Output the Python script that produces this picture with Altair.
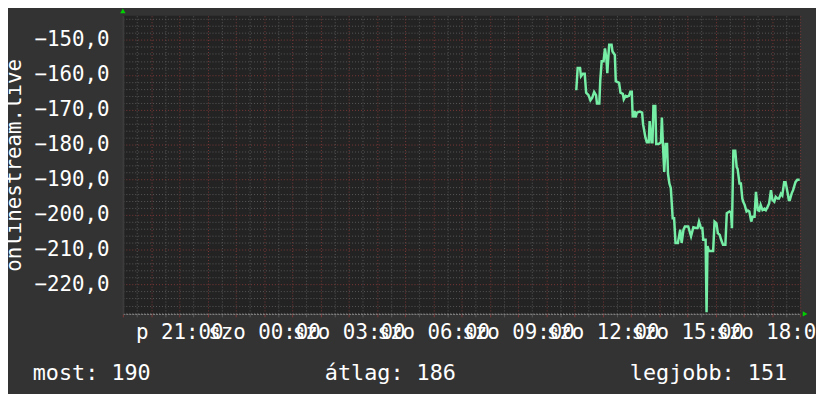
import altair as alt
import pandas as pd

# minutes relative to Saturday 00:00 (Friday 19:00 = -300)
minutes = [664, 667, 672, 674, 678, 682, 685, 690, 694, 698, 702, 706, 708, 713, 715,
           718, 722, 725, 728, 730, 732, 734, 739, 741, 746, 748, 755, 758, 763, 765,
           769, 772, 776, 779, 782, 784, 788, 790, 793, 799, 804, 806, 811, 814, 818,
           820, 824, 826, 828, 832, 834, 839, 844, 846, 848, 851, 854, 857, 859, 862,
           865, 869, 872, 875, 880, 885, 888, 892, 895, 902, 908, 913, 918, 922, 925,
           929, 932, 934, 939, 941, 943, 946, 951, 955, 958, 962, 965, 969, 972, 976,
           981, 984, 990, 993, 995, 998, 1002, 1005, 1007, 1011, 1014, 1017, 1019, 1022,
           1026, 1029, 1032, 1036, 1039, 1043, 1046, 1050, 1053, 1056, 1060, 1064, 1067,
           1071, 1074, 1078, 1081, 1085, 1088, 1092, 1095, 1099, 1102, 1106, 1109, 1113,
           1116, 1118, 1122, 1125, 1130, 1134, 1139]
values = [-164.4, -158.0, -158.0, -160.4, -159.7, -159.7, -165.1, -165.8, -167.3, -166.5,
          -164.9, -165.8, -168.2, -168.2, -161.6, -156.1, -156.1, -152.4, -155.2, -159.5,
          -155.2, -151.4, -151.4, -153.3, -154.3, -161.8, -162.3, -165.1, -165.4, -167.0,
          -166.0, -166.2, -166.0, -164.8, -164.8, -172.2, -170.3, -172.2, -170.8, -170.5,
          -170.8, -174.1, -177.9, -179.3, -179.3, -173.2, -179.3, -179.3, -168.9, -168.9,
          -179.8, -179.8, -179.3, -172.2, -179.3, -187.8, -179.8, -179.8, -188.3, -191.1,
          -192.4, -201.0, -201.0, -208.1, -208.1, -204.3, -208.1, -204.3, -203.4, -203.4,
          -206.2, -203.6, -203.8, -203.8, -202.0, -203.8, -203.8, -207.2, -207.2, -227.9,
          -209.0, -210.4, -210.4, -210.4, -202.0, -202.5, -205.3, -205.8, -207.2, -208.6,
          -208.6, -199.6, -199.1, -199.4, -203.9, -181.7, -181.7, -186.4, -186.9, -191.1,
          -191.1, -195.4, -196.3, -197.2, -199.1, -198.8, -199.1, -202.0, -200.6, -200.6,
          -193.5, -198.7, -198.9, -197.2, -198.7, -198.3, -198.7, -197.7, -196.8, -193.0,
          -195.8, -196.3, -194.9, -195.4, -195.4, -194.0, -194.5, -190.7, -190.7, -193.5,
          -195.8, -195.8, -193.9, -193.0, -190.7, -190.0, -190.0]

x_label_values = [-180, 0, 180, 360, 540, 720, 900, 1080]
x_label_texts = ["p 21:00", "szo 00:00", "szo 03:00", "szo 06:00", "szo 09:00",
                 "szo 12:00", "szo 15:00", "szo 18:00"]
legend_names = ["most", "átlag", "legjobb"]
legend_values = [190, 186, 151]
y_title = "onlinestream.live"

X_DOMAIN = [-300, 1140]
Y_DOMAIN = [-228.4, -143.1]

FONT = "DejaVu Sans Mono"
MINOR = "#585858"
MAJOR = "#7e3838"

df = pd.DataFrame({"t": minutes, "v": values})

x_expr = "".join(f"datum.value === {v} ? '{t}' : " for v, t in zip(x_label_values, x_label_texts)) + "''"
y_expr = "datum.value % 10 === 0 ? replace(format(datum.value, '.1f'), '.', ',') : ''"

x_axis = alt.Axis(
    values=list(range(X_DOMAIN[0], X_DOMAIN[1] + 1, 30)),
    labelExpr=x_expr, labelOverlap=False, labelFlush=False, labelBound=False,
    labelFont=FONT, labelFontSize=21, labelColor="#ffffff", labelPadding=5,
    tickSize=3,
    tickColor={"condition": {"test": "datum.value % 60 === 0", "value": MAJOR}, "value": MINOR},
    grid=True,
    gridColor={"condition": {"test": "datum.value % 60 === 0", "value": MAJOR}, "value": MINOR},
    gridDash=[1, 2], gridWidth=1,
    domainColor="#8a8a8a", domainDash=[2, 1], title=None,
)
y_axis = alt.Axis(
    values=list(range(-228, -143, 2)),
    labelExpr=y_expr, labelOverlap=False, labelFlush=False, labelBound=False,
    labelFont=FONT, labelFontSize=21, labelColor="#ffffff", labelPadding=14,
    tickSize=0, grid=True,
    gridColor={"condition": {"test": "datum.value % 10 === 0", "value": MAJOR}, "value": MINOR},
    gridDash=[1, 2], gridWidth=1,
    domainColor="#3c3c3c", domainWidth=2,
    title=y_title, titleFont=FONT, titleFontSize=21, titleFontWeight="normal",
    titleColor="#ffffff", titleAngle=270, titleX=-103, titleY=150.5,
    titleAlign="center", titleBaseline="alphabetic",
)
x_scale = alt.Scale(domain=X_DOMAIN, nice=False, zero=False)
y_scale = alt.Scale(domain=Y_DOMAIN, nice=False, zero=False)

base = alt.Chart(df)
line = base.mark_line(color="#76eea6", strokeWidth=2.5, clip=True).encode(
    x=alt.X("t:Q", scale=x_scale, axis=x_axis),
    y=alt.Y("v:Q", scale=y_scale, axis=y_axis),
)

arrow_up = alt.Chart(pd.DataFrame({"a": [0]})).mark_point(
    shape="triangle-up", filled=True, color="#00d000", size=30, opacity=1, yOffset=-5, clip=False
).encode(x=alt.X(datum=X_DOMAIN[0], type="quantitative", scale=x_scale, axis=x_axis),
         y=alt.Y(datum=Y_DOMAIN[1], type="quantitative", scale=y_scale, axis=y_axis))
arrow_right = alt.Chart(pd.DataFrame({"a": [0]})).mark_point(
    shape="triangle-right", filled=True, color="#00d000", size=30, opacity=1, xOffset=5, clip=False
).encode(x=alt.X(datum=X_DOMAIN[1], type="quantitative", scale=x_scale, axis=x_axis),
         y=alt.Y(datum=Y_DOMAIN[0], type="quantitative", scale=y_scale, axis=y_axis))

legend_x = [-91, 204, 512]
legend_layers = []
for name, val, px in zip(legend_names, legend_values, legend_x):
    legend_layers.append(
        alt.Chart(pd.DataFrame({"txt": [f"{name}: {val}"]})).mark_text(
            font=FONT, fontSize=22, color="#ffffff", align="left", baseline="alphabetic"
        ).encode(text="txt:N", x=alt.value(px), y=alt.value(367.5))
    )

chart = alt.layer(line, arrow_up, arrow_right, *legend_layers).properties(
    width=684, height=301,
    autosize=alt.AutoSizeParams(type="none"),
    padding={"left": 116, "top": 6, "right": 16, "bottom": 79},
    background="#333333",
).configure_view(fill="#232323", stroke=None)

chart.save("out.html", embed_options={"renderer": "svg", "actions": False})
